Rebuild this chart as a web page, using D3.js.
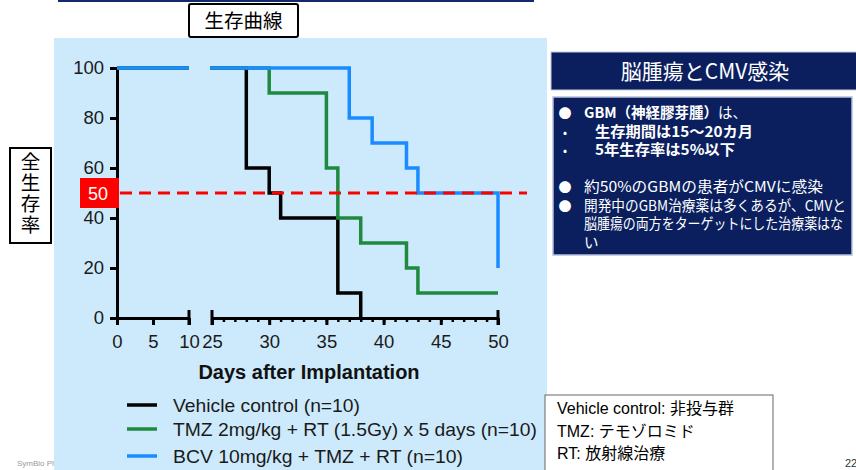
<!DOCTYPE html>
<html><head><meta charset="utf-8">
<script src="https://cdn.jsdelivr.net/npm/d3@7/dist/d3.min.js"></script>
<style>
html,body{margin:0;padding:0;background:#fff;}
svg{display:block;}
text{font-family:"Liberation Sans",Arial,"Noto Sans CJK JP",sans-serif;}
.jp{font-family:"Noto Sans CJK JP","Liberation Sans",sans-serif;}
</style></head>
<body>
<script>
// ---------- data ----------
const vehicleDays = [0, 28, 30, 31, 36, 38];
const vehicleSurv = [100, 60, 50, 40, 10, 0];
const tmzDays = [0, 30, 35, 36, 38, 42, 43, 50];
const tmzSurv = [100, 90, 60, 40, 30, 20, 10, 10];
const bcvDays = [0, 37, 39, 42, 43, 50];
const bcvSurv = [100, 80, 70, 60, 50, 20];
const seriesNames = ["Vehicle control (n=10)", "TMZ 2mg/kg + RT (1.5Gy) x 5 days (n=10)", "BCV 10mg/kg + TMZ + RT (n=10)"];
const seriesColors = ["#000000", "#1f8a3f", "#1a8cff"];
const yTicks = [0, 20, 40, 60, 80, 100];
const xTicksA = [0, 5, 10];
const xTicksB = [25, 30, 35, 40, 45, 50];
const medianLine = 50;

const W = 856, H = 470;
const svg = d3.select("body").append("svg").attr("width", W).attr("height", H);

// footer bits (behind panel)
svg.append("text").attr("x", 17).attr("y", 466).attr("font-size", 8).attr("fill", "#999").text("SymBio Pharma");
svg.append("text").attr("x", 845).attr("y", 467).attr("font-size", 11).attr("fill", "#333").text("22");

// top navy line
svg.append("rect").attr("x", 58).attr("y", 0).attr("width", 476).attr("height", 2).attr("fill", "#13296b");

// light blue panel
svg.append("rect").attr("x", 54).attr("y", 38).attr("width", 493).attr("height", 432).attr("fill", "#cdeafc");

// title box
svg.append("rect").attr("x", 189).attr("y", 4).attr("width", 109).attr("height", 33).attr("rx", 2)
  .attr("fill", "#fff").attr("stroke", "#000").attr("stroke-width", 2);
svg.append("text").attr("class", "jp").attr("x", 243.5).attr("y", 28).attr("text-anchor", "middle")
  .attr("font-size", 19.5).attr("fill", "#000").text("生存曲線");

// y label box (vertical text)
svg.append("rect").attr("x", 10).attr("y", 148).attr("width", 41).attr("height", 95)
  .attr("fill", "#fff").attr("stroke", "#000").attr("stroke-width", 2);
svg.append("text").attr("class", "jp").attr("x", 30.5).attr("y", 152)
  .attr("writing-mode", "vertical-rl").style("writing-mode", "vertical-rl")
  .attr("letter-spacing", 1.5).attr("font-size", 19.5).attr("fill", "#000").text("全生存率");

// ---------- scales ----------
const y = d3.scaleLinear().domain([0, 100]).range([318, 68]);
const xA = d3.scaleLinear().domain([0, 10]).range([117, 189]);
const xB = d3.scaleLinear().domain([25, 50]).range([212, 498]);

const defs = svg.append("defs");
defs.append("clipPath").attr("id", "clipA").append("rect")
  .attr("x", xA(0) - 2).attr("y", 50).attr("width", xA(10) - xA(0) + 2).attr("height", 280);
defs.append("clipPath").attr("id", "clipB").append("rect")
  .attr("x", xB(25) - 2).attr("y", 50).attr("width", xB(50) - xB(25) + 4).attr("height", 280);

// ---------- axes ----------
const fs = 18.5;
const yAx = svg.append("g").attr("transform", `translate(${xA(0)},0)`)
  .call(d3.axisLeft(y).tickValues(yTicks).tickSize(7).tickSizeOuter(0).tickPadding(6));
yAx.select(".domain").attr("stroke-width", 3).attr("stroke", "#000");
yAx.selectAll(".tick line").attr("stroke-width", 3).attr("stroke", "#000");
yAx.selectAll(".tick text").attr("font-size", fs).attr("fill", "#1a1a1a")
  .attr("font-family", "Liberation Sans, Arial, sans-serif");

function xAxis(scale, majors, minors) {
  const g = svg.append("g").attr("transform", `translate(0,${y(0)})`);
  if (minors) {
    const gm = g.append("g").call(d3.axisBottom(scale).tickValues(minors).tickSize(4).tickSizeOuter(0).tickFormat(""));
    gm.select(".domain").remove();
    gm.selectAll(".tick line").attr("stroke-width", 2.5).attr("stroke", "#000");
  }
  const gM = g.append("g").call(d3.axisBottom(scale).tickValues(majors).tickSize(7).tickSizeOuter(0).tickPadding(10));
  gM.select(".domain").attr("stroke-width", 3).attr("stroke", "#000");
  gM.selectAll(".tick line").attr("stroke-width", 3).attr("stroke", "#000");
  gM.selectAll(".tick text").attr("font-size", fs).attr("fill", "#1a1a1a")
    .attr("font-family", "Liberation Sans, Arial, sans-serif");
  // end caps of the broken axis
  scale.domain().forEach((d, i) => {
    if (scale === xA && i === 0) return;
    g.append("line").attr("x1", scale(d)).attr("x2", scale(d)).attr("y1", -8).attr("y2", 7)
      .attr("stroke", "#000").attr("stroke-width", 3);
  });
  return g;
}
xAxis(xA, xTicksA, null);
xAxis(xB, xTicksB, d3.range(25, 51));

svg.append("text").attr("x", 309).attr("y", 379).attr("text-anchor", "middle")
  .attr("font-size", 20).attr("font-weight", "bold").attr("fill", "#111").text("Days after Implantation");

// ---------- curves ----------
const series = [
  {days: vehicleDays, surv: vehicleSurv},
  {days: tmzDays, surv: tmzSurv},
  {days: bcvDays, surv: bcvSurv}
];
series.forEach((s, i) => {
  const pts = s.days.map((d, j) => [d, s.surv[j]]);
  [[xA, "clipA"], [xB, "clipB"]].forEach(([sc, cid]) => {
    const line = d3.line().x(p => sc(p[0])).y(p => y(p[1])).curve(d3.curveStepAfter);
    svg.append("path").attr("d", line(pts)).attr("clip-path", `url(#${cid})`)
      .attr("fill", "none").attr("stroke", seriesColors[i]).attr("stroke-width", 3.5)
      .attr("stroke-linejoin", "miter").attr("stroke-linecap", "butt");
  });
});

// median line
svg.append("line").attr("x1", 120).attr("x2", 527).attr("y1", y(medianLine)).attr("y2", y(medianLine))
  .attr("stroke", "#ff0000").attr("stroke-width", 3).attr("stroke-dasharray", "12,7");
svg.append("rect").attr("x", 80).attr("y", y(medianLine) - 15).attr("width", 39).attr("height", 30).attr("fill", "#ff0000");
svg.append("text").attr("x", 98).attr("y", y(medianLine) + 6.5).attr("text-anchor", "middle")
  .attr("font-size", 18).attr("fill", "#fff").text(String(medianLine));

// legend
const legendW = [187, 364, 290];
seriesNames.forEach((n, i) => {
  const ly = [405, 429, 456][i];
  svg.append("line").attr("x1", 127).attr("x2", 157).attr("y1", ly).attr("y2", ly)
    .attr("stroke", seriesColors[i]).attr("stroke-width", 3.5);
  svg.append("text").attr("x", 173).attr("y", ly + 6.5).attr("font-size", 18.5).attr("fill", "#1a1a1a")
    .attr("textLength", legendW[i]).attr("lengthAdjust", "spacingAndGlyphs").text(n);
});

// ---------- right panel ----------
const navy = "#0b1f5f";
svg.append("rect").attr("x", 551).attr("y", 52).attr("width", 310).attr("height", 38).attr("fill", navy)
  .attr("stroke", "#c5cde0").attr("stroke-width", 1);
svg.append("text").attr("class", "jp").attr("x", 705).attr("y", 79).attr("text-anchor", "middle")
  .attr("font-size", 21).attr("fill", "#fff").text("脳腫瘍とCMV感染");

svg.append("rect").attr("x", 553).attr("y", 97).attr("width", 299).attr("height", 158).attr("fill", navy)
  .attr("stroke", "#b7c0d8").attr("stroke-width", 1.5);

const bodyLines = [
  {b: "●", parts: [["GBM（神経膠芽腫）", true], ["は、", false]], y: 118, x: 584, w: 163},
  {b: "•", parts: [["生存期間は15～20カ月", true]], y: 137, x: 595, w: 158},
  {b: "•", parts: [["5年生存率は5%以下", true]], y: 155, x: 595, w: 140},
  {b: "●", parts: [["約50%のGBMの患者がCMVに感染", false]], y: 192, x: 584, w: 239},
  {b: "●", parts: [["開発中のGBM治療薬は多くあるが、CMVと", false]], y: 211, x: 584, w: 262},
  {b: "", parts: [["脳腫瘍の両方をターゲットにした治療薬はな", false]], y: 229, x: 584, w: 259},
  {b: "", parts: [["い", false]], y: 248, x: 584, w: 0}
];
bodyLines.forEach(l => {
  if (l.b) svg.append("text").attr("class", "jp").attr("x", 565).attr("y", l.y).attr("text-anchor", "middle")
    .attr("font-size", l.b === "●" ? 13 : 12).attr("fill", "#fff").text(l.b);
  const t = svg.append("text").attr("class", "jp").attr("x", l.x).attr("y", l.y).attr("font-size", 14.5).attr("fill", "#fff");
  if (l.w) t.attr("textLength", l.w).attr("lengthAdjust", "spacingAndGlyphs");
  l.parts.forEach(p => t.append("tspan").attr("font-weight", p[1] ? "bold" : "normal").text(p[0]));
});

// abbreviations box
svg.append("rect").attr("x", 545).attr("y", 395).attr("width", 228).attr("height", 80)
  .attr("fill", "#fff").attr("stroke", "#666").attr("stroke-width", 1);
["Vehicle control: 非投与群", "TMZ: テモゾロミド", "RT: 放射線治療"].forEach((s, i) => {
  svg.append("text").attr("x", 557).attr("y", 414 + i * 22.5).attr("font-size", 16).attr("fill", "#000").text(s);
});
</script>
</body></html>
